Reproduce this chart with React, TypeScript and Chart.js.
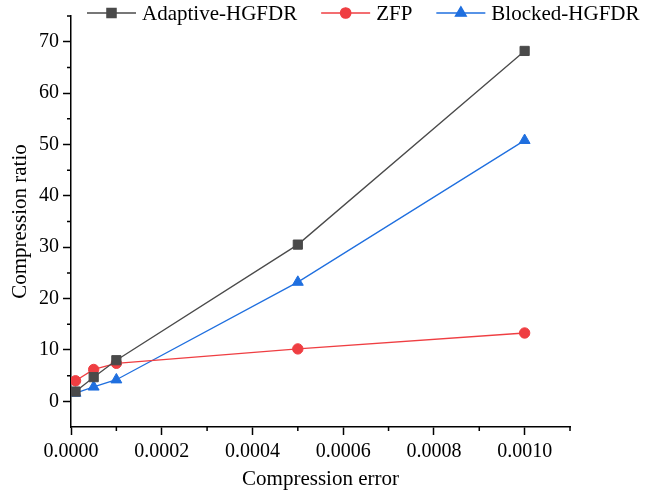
import React, { useEffect, useRef } from "react";
import { Chart, registerables } from "chart.js";
import { drawPoint } from "chart.js/helpers";

Chart.register(...registerables);

const xValues = [0.00001, 0.00005, 0.0001, 0.0005, 0.001];
const adaptiveHGFDR = [1.9, 4.7, 8.0, 30.5, 68.2];
const zfp = [4.0, 6.2, 7.4, 10.2, 13.3];
const blockedHGFDR = [1.6, 2.8, 4.2, 23.2, 50.8];
const seriesLabels = ["Adaptive-HGFDR", "ZFP", "Blocked-HGFDR"];
const xTickValues = [0, 0.0002, 0.0004, 0.0006, 0.0008, 0.001];
const yTickValues = [0, 10, 20, 30, 40, 50, 60, 70];
const xTitle = "Compression error";
const yTitle = "Compression ratio";

const FONT = '"Liberation Serif", "Times New Roman", serif';

const toPts = (ys: number[]) => ys.map((y, i) => ({ x: xValues[i], y }));

const legendPlugin = {
  id: "lineLegend",
  afterDraw(chart: any) {
    const ctx = chart.ctx;
    ctx.save();
    ctx.font = `21px ${FONT}`;
    ctx.textBaseline = "middle";
    let x = 87;
    const y = 13;
    chart.data.datasets.forEach((ds: any) => {
      ctx.strokeStyle = ds.borderColor;
      ctx.lineWidth = ds.borderWidth;
      ctx.beginPath();
      ctx.moveTo(x, y);
      ctx.lineTo(x + 49, y);
      ctx.stroke();
      ctx.fillStyle = ds.pointBackgroundColor;
      ctx.strokeStyle = ds.pointBorderColor;
      drawPoint(ctx, { pointStyle: ds.pointStyle, radius: ds.pointRadius, rotation: 0, borderWidth: 1 }, x + 24.5, y);
      ctx.fillStyle = "#000";
      ctx.textAlign = "left";
      ctx.fillText(ds.label, x + 55, y + 1);
      x += 55 + ctx.measureText(ds.label).width + 24;
    });
    ctx.restore();
  },
};

const minorTickPlugin = {
  id: "minorTicks",
  afterDraw(chart: any) {
    const ctx = chart.ctx;
    const xs = chart.scales.x;
    const ys = chart.scales.y;
    const area = chart.chartArea;
    const xStep = xTickValues[1] - xTickValues[0];
    const yStep = yTickValues[1] - yTickValues[0];
    ctx.save();
    ctx.strokeStyle = "#000";
    ctx.lineWidth = 1.5;
    ctx.beginPath();
    for (let v = xTickValues[0] + xStep / 2; v <= xs.max + 1e-12; v += xStep) {
      const px = xs.getPixelForValue(v);
      ctx.moveTo(px, area.bottom);
      ctx.lineTo(px, area.bottom + 4);
    }
    for (let v = yTickValues[0] + yStep / 2; v <= ys.max + 1e-9; v += yStep) {
      const py = ys.getPixelForValue(v);
      ctx.moveTo(area.left, py);
      ctx.lineTo(area.left - 4, py);
    }
    ctx.stroke();
    ctx.restore();
  },
};

export default function App() {
  const ref = useRef<HTMLCanvasElement>(null);
  useEffect(() => {
    document.body.style.margin = "0";
    const colors = ["#4a4a4a", "#ef3e42", "#1f6fdf"];
    const styles = ["rect", "circle", "triangle"];
    const radii = [6.5, 5.2, 6.3];
    const data = [adaptiveHGFDR, zfp, blockedHGFDR];
    const chart = new Chart(ref.current!, {
      type: "line",
      data: {
        datasets: data.map((d, i) => ({
          label: seriesLabels[i],
          data: toPts(d),
          borderColor: colors[i],
          backgroundColor: colors[i],
          pointBackgroundColor: colors[i],
          pointBorderColor: colors[i],
          pointStyle: styles[i] as any,
          pointRadius: radii[i],
          pointBorderWidth: 1,
          borderWidth: 1.3,
          tension: 0,
        })),
      },
      options: {
        responsive: false,
        animation: false,
        layout: { padding: { left: 0, top: 15, right: 86, bottom: 0 } },
        plugins: { legend: { display: false }, tooltip: { enabled: false } },
        scales: {
          x: {
            type: "linear",
            position: "bottom",
            min: 0,
            max: 0.0011,
            ticks: {
              color: "#000",
              font: { family: FONT, size: 20 },
              padding: 5,
              maxRotation: 0,
              autoSkip: false,
              callback: (v: any) => Number(v).toFixed(4),
            },
            afterBuildTicks: (s: any) => {
              s.ticks = xTickValues.map((v) => ({ value: v }));
            },
            afterFit: (s: any) => { s.height = 66; },
            grid: { drawOnChartArea: false, drawTicks: true, tickLength: 8, tickColor: "#000", tickWidth: 1.5 },
            border: { display: true, color: "#000", width: 1.5 },
            title: { display: true, text: xTitle, color: "#000", font: { family: FONT, size: 21 }, padding: { top: 0, bottom: 1 } },
          },
          y: {
            type: "linear",
            min: -5,
            max: 75,
            ticks: {
              color: "#000",
              font: { family: FONT, size: 20 },
              padding: 4,
              autoSkip: false,
              callback: (v: any) => String(v),
            },
            afterBuildTicks: (s: any) => {
              s.ticks = yTickValues.map((v) => ({ value: v }));
            },
            afterFit: (s: any) => { s.width = 71; },
            grid: { drawOnChartArea: false, drawTicks: true, tickLength: 8, tickColor: "#000", tickWidth: 1.5 },
            border: { display: true, color: "#000", width: 1.5 },
            title: { display: true, text: yTitle, color: "#000", font: { family: FONT, size: 21 }, padding: { top: 8, bottom: 0 } },
          },
        },
      },
      plugins: [legendPlugin, minorTickPlugin],
    });
    return () => chart.destroy();
  }, []);
  return (
    <div style={{ width: 656, height: 493, background: "#fff" }}>
      <canvas ref={ref} width={656} height={493} />
    </div>
  );
}
